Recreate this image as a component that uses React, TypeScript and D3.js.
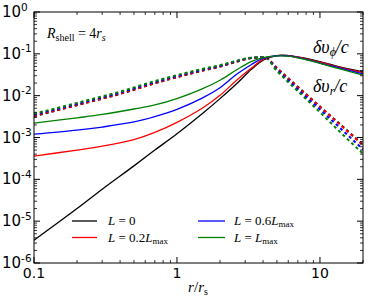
import React from 'react';
import * as d3 from 'd3';

const W = 374, H = 299;
const PL = 34, PT = 12, PR = 363, PB = 263;

// δv_φ/c (solid)
const rPhi = [0.1, 0.2, 0.3, 0.5, 0.7, 1, 1.5, 2, 2.6, 3.3, 4, 5, 6, 8, 10, 14, 20];
const phiL0 = [3.5e-6, 2.0e-5, 5.8e-5, 2.1e-4, 5.0e-4, 1.23e-3, 3.7e-3, 8.5e-3, 0.019, 0.042, 0.071, 0.091, 0.091, 0.078, 0.065, 0.048, 0.037];
const phiL02 = [3.6e-4, 5.0e-4, 6.2e-4, 8.9e-4, 1.32e-3, 2.3e-3, 5.0e-3, 0.0102, 0.023, 0.045, 0.074, 0.091, 0.090, 0.076, 0.063, 0.047, 0.0355];
const phiL06 = [1.2e-3, 1.5e-3, 1.78e-3, 2.35e-3, 3.15e-3, 4.7e-3, 8.7e-3, 0.0155, 0.032, 0.055, 0.078, 0.090, 0.089, 0.074, 0.060, 0.045, 0.033];
const phiL1 = [2.2e-3, 2.95e-3, 3.55e-3, 4.8e-3, 6.0e-3, 8.5e-3, 0.0145, 0.0234, 0.041, 0.065, 0.081, 0.089, 0.088, 0.072, 0.059, 0.043, 0.031];

// δv_r/c (dashed)
const rR = [0.1, 0.2, 0.4, 0.7, 1, 1.5, 2, 2.6, 3.3, 4.1, 5, 6.6, 10, 14, 20];
const vrL0 = [3.2e-3, 5.9e-3, 0.011, 0.0197, 0.0276, 0.0395, 0.0495, 0.0645, 0.079, 0.083, 0.046, 0.0195, 5.5e-3, 2.0e-3, 6.7e-4];
const vrL02 = [3.3e-3, 6.0e-3, 0.0112, 0.020, 0.028, 0.040, 0.050, 0.065, 0.079, 0.083, 0.045, 0.019, 5.4e-3, 1.95e-3, 6.5e-4];
const vrL06 = [3.5e-3, 6.35e-3, 0.0118, 0.0211, 0.0294, 0.0415, 0.0515, 0.0665, 0.080, 0.083, 0.042, 0.0171, 4.7e-3, 1.62e-3, 5.2e-4];
const vrL1 = [3.7e-3, 6.7e-3, 0.0125, 0.0223, 0.031, 0.0435, 0.0535, 0.068, 0.081, 0.083, 0.039, 0.0155, 4.0e-3, 1.3e-3, 4.1e-4];

const colors = ['#000000', '#ff0000', '#0000ff', '#008000'];
const phiSeries = [phiL0, phiL02, phiL06, phiL1];
const vrSeries = [vrL0, vrL02, vrL06, vrL1];

const xMajor = [0.1, 1, 10];
const xTickLabels = ['0.1', '1', '10'];
const yExponents = [0, -1, -2, -3, -4, -5, -6];

const serif = "'Liberation Serif', 'DejaVu Serif', serif";
const sans = "'DejaVu Sans', sans-serif";

export default function App() {
  const x = d3.scaleLog().domain([0.1, 20]).range([PL, PR]);
  const y = d3.scaleLog().domain([1e-6, 1]).range([PB, PT]);
  const smooth = d3.line<[number, number]>()
    .x(d => x(d[0]))
    .y(d => y(d[1]))
    .curve(d3.curveCatmullRom.alpha(0.5));
  const mono = d3.line<[number, number]>()
    .x(d => x(d[0]))
    .y(d => y(d[1]))
    .curve(d3.curveMonotoneX);

  const xMinor: number[] = [];
  for (const dec of [0.1, 1, 10]) {
    for (let k = 2; k <= 9; k++) {
      const v = dec * k;
      if (v <= 20 + 1e-9) xMinor.push(v);
    }
  }
  const yMinor: number[] = [];
  for (let e = -6; e < 0; e++) {
    for (let k = 2; k <= 9; k++) yMinor.push(k * Math.pow(10, e));
  }

  const ticks: JSX.Element[] = [];
  xMajor.forEach((v, i) => {
    const px = x(v);
    ticks.push(<line key={'xb' + i} x1={px} x2={px} y1={PB} y2={PB - 6} stroke="#000" strokeWidth={1} />);
    ticks.push(<line key={'xt' + i} x1={px} x2={px} y1={PT} y2={PT + 6} stroke="#000" strokeWidth={1} />);
  });
  xMinor.forEach((v, i) => {
    const px = x(v);
    ticks.push(<line key={'xmb' + i} x1={px} x2={px} y1={PB} y2={PB - 3} stroke="#000" strokeWidth={0.8} />);
    ticks.push(<line key={'xmt' + i} x1={px} x2={px} y1={PT} y2={PT + 3} stroke="#000" strokeWidth={0.8} />);
  });
  yExponents.forEach((e, i) => {
    const py = y(Math.pow(10, e));
    ticks.push(<line key={'yl' + i} x1={PL} x2={PL + 6} y1={py} y2={py} stroke="#000" strokeWidth={1} />);
    ticks.push(<line key={'yr' + i} x1={PR} x2={PR - 6} y1={py} y2={py} stroke="#000" strokeWidth={1} />);
  });
  yMinor.forEach((v, i) => {
    const py = y(v);
    ticks.push(<line key={'yml' + i} x1={PL} x2={PL + 3} y1={py} y2={py} stroke="#000" strokeWidth={0.8} />);
    ticks.push(<line key={'ymr' + i} x1={PR} x2={PR - 3} y1={py} y2={py} stroke="#000" strokeWidth={0.8} />);
  });

  return (
    <svg width={W} height={H} style={{ position: 'absolute', left: 0, top: 0, background: '#fff' }}>
      <rect x={0} y={0} width={W} height={H} fill="#fff" />
      <defs>
        <clipPath id="plot">
          <rect x={PL} y={PT} width={PR - PL} height={PB - PT} />
        </clipPath>
      </defs>
      <g clipPath="url(#plot)">
        {vrSeries.map((s, i) => (
          <path key={'vr' + i} d={mono(rR.map((r, j) => [r, s[j]]))!} fill="none"
            stroke={colors[i]} strokeWidth={2} strokeDasharray="3,3" />
        ))}
        {phiSeries.map((s, i) => (
          <path key={'phi' + i} d={smooth(rPhi.map((r, j) => [r, s[j]]))!} fill="none"
            stroke={colors[i]} strokeWidth={1.3} />
        ))}
      </g>
      <rect x={PL} y={PT} width={PR - PL} height={PB - PT} fill="none" stroke="#000" strokeWidth={1} />
      {ticks}
      {xMajor.map((v, i) => (
        <text key={'xl' + i} x={x(v)} y={278} textAnchor="middle" fontFamily={sans} fontSize={14}>{xTickLabels[i]}</text>
      ))}
      {yExponents.map((e, i) => (
        <text key={'ylab' + i} x={2} y={y(Math.pow(10, e)) + 5} fontFamily={sans} fontSize={15}>
          10<tspan fontSize={10.5} dy={-6.5}>{e === 0 ? '0' : '-' + Math.abs(e)}</tspan>
        </text>
      ))}
      <text x={198} y={292} textAnchor="middle" fontFamily={serif} fontSize={15}>
        <tspan fontStyle="italic">r</tspan>/<tspan fontStyle="italic">r</tspan><tspan fontSize={10} dy={3}>s</tspan>
      </text>
      <text x={47} y={37.5} fontFamily={serif} fontSize={14}>
        <tspan fontStyle="italic">R</tspan><tspan fontSize={10} dy={3}>shell</tspan><tspan dy={-3}> = 4</tspan><tspan fontStyle="italic">r</tspan><tspan fontSize={10} dy={3} fontStyle="italic">s</tspan>
      </text>
      <text x={313} y={53} fontFamily={serif} fontSize={18}>
        <tspan fontStyle="italic">δυ</tspan><tspan fontSize={12} dy={3} fontStyle="italic">ϕ</tspan><tspan dy={-3} fontStyle="italic">/c</tspan>
      </text>
      <text x={313} y={92} fontFamily={serif} fontSize={18}>
        <tspan fontStyle="italic">δυ</tspan><tspan fontSize={12} dy={3} fontStyle="italic">r</tspan><tspan dy={-3} fontStyle="italic">/c</tspan>
      </text>
      {/* legend */}
      <line x1={72} x2={97} y1={221} y2={221} stroke={colors[0]} strokeWidth={1.3} />
      <text x={108} y={225} fontFamily={serif} fontSize={13}><tspan fontStyle="italic">L</tspan> = 0</text>
      <line x1={72} x2={97} y1={237.5} y2={237.5} stroke={colors[1]} strokeWidth={1.3} />
      <text x={108} y={241.5} fontFamily={serif} fontSize={13}><tspan fontStyle="italic">L</tspan> = 0.2<tspan fontStyle="italic">L</tspan><tspan fontSize={9} dy={2}>max</tspan></text>
      <line x1={198} x2={225} y1={221} y2={221} stroke={colors[2]} strokeWidth={1.3} />
      <text x={234} y={225} fontFamily={serif} fontSize={13}><tspan fontStyle="italic">L</tspan> = 0.6<tspan fontStyle="italic">L</tspan><tspan fontSize={9} dy={2}>max</tspan></text>
      <line x1={198} x2={225} y1={237.5} y2={237.5} stroke={colors[3]} strokeWidth={1.3} />
      <text x={234} y={241.5} fontFamily={serif} fontSize={13}><tspan fontStyle="italic">L</tspan> = <tspan fontStyle="italic">L</tspan><tspan fontSize={9} dy={2}>max</tspan></text>
    </svg>
  );
}
